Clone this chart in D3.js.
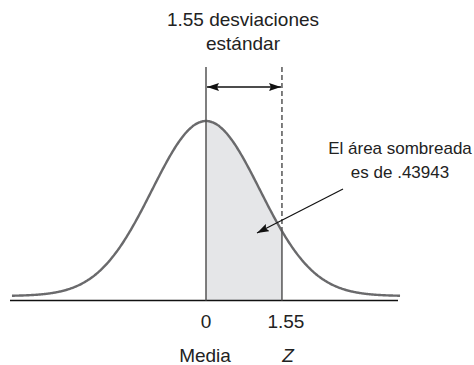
<!DOCTYPE html>
<html>
<head>
<meta charset="utf-8">
<script src="https://cdn.jsdelivr.net/npm/d3@7"></script>
<style>
html,body{margin:0;padding:0;background:#fff;}
text{font-family:"Liberation Sans",Arial,sans-serif;fill:#222;}
</style>
</head>
<body>
<svg id="c" width="474" height="365"></svg>
<script>
// ---- data ----
const zMean = 0;
const zValue = 1.55;
const shadedArea = ".43943";
const tickValues = [0, 1.55];
const tickLabels = ["0", "1.55"];
const axisLabels = ["Media", "Z"];
const titleLines = ["1.55 desviaciones", "estándar"];
const noteLines = ["El área sombreada", "es de " + shadedArea];
const curveSigma = 1.1;   // drawing spread of the schematic curve
const zRange = [-3.96, 3.96];

const svg = d3.select("#c");
const x = d3.scaleLinear().domain([-4, 4]).range([10, 402]);
const y = d3.scaleLinear().domain([0, 1]).range([296, 121]);
const baseY = 300.5;

const dens = z => Math.exp(-((z - zMean) ** 2) / (2 * curveSigma * curveSigma));
const pts = d3.range(zRange[0], zRange[1] + 1e-9, 0.02).map(z => [z, dens(z)]);
const shadePts = d3.range(zMean, zValue + 1e-9, 0.01).map(z => [z, dens(z)]);

// shaded area
svg.append("path")
  .datum(shadePts)
  .attr("fill", "#e5e6e8")
  .attr("d", d3.area().x(d => x(d[0])).y0(baseY).y1(d => y(d[1])));

// baseline
svg.append("line")
  .attr("x1", 10).attr("x2", 398).attr("y1", baseY).attr("y2", baseY)
  .attr("stroke", "#111").attr("stroke-width", 1.5);

// curve
svg.append("path")
  .datum(pts)
  .attr("fill", "none").attr("stroke", "#6a6a6c").attr("stroke-width", 2.4)
  .attr("d", d3.line().x(d => x(d[0])).y(d => y(d[1])).curve(d3.curveBasis));

const topY = 67;
// mean line
svg.append("line")
  .attr("x1", x(zMean)).attr("x2", x(zMean)).attr("y1", topY).attr("y2", baseY)
  .attr("stroke", "#555").attr("stroke-width", 1.5);
// z line: dashed above curve, solid below
const yAtZ = y(dens(zValue));
svg.append("line")
  .attr("x1", x(zValue)).attr("x2", x(zValue)).attr("y1", topY).attr("y2", yAtZ)
  .attr("stroke", "#555").attr("stroke-width", 1.5).attr("stroke-dasharray", "5,3");
svg.append("line")
  .attr("x1", x(zValue)).attr("x2", x(zValue)).attr("y1", yAtZ).attr("y2", baseY)
  .attr("stroke", "#555").attr("stroke-width", 1.5);

// arrow markers
const defs = svg.append("defs");
defs.append("marker").attr("id", "ah").attr("viewBox", "0 0 12 8")
  .attr("refX", 12).attr("refY", 4).attr("markerWidth", 12).attr("markerHeight", 8)
  .attr("markerUnits", "userSpaceOnUse").attr("orient", "auto-start-reverse")
  .append("path").attr("d", "M0,0 L12,4 L0,8 L2,4 Z").attr("fill", "#111");

// double arrow
svg.append("line")
  .attr("x1", x(zMean) + 1).attr("x2", x(zValue) - 1).attr("y1", 87).attr("y2", 87)
  .attr("stroke", "#111").attr("stroke-width", 1.3)
  .attr("marker-start", "url(#ah)").attr("marker-end", "url(#ah)");

// pointer arrow
svg.append("line")
  .attr("x1", 343).attr("y1", 189).attr("x2", 257).attr("y2", 233)
  .attr("stroke", "#111").attr("stroke-width", 1.2)
  .attr("marker-end", "url(#ah)");

// title
svg.append("g").selectAll("text").data(titleLines).join("text")
  .attr("x", 243).attr("y", (d, i) => 26 + i * 24)
  .attr("text-anchor", "middle").attr("font-size", 19).text(d => d);

// note
svg.append("g").selectAll("text").data(noteLines).join("text")
  .attr("x", 400).attr("y", (d, i) => 154 + i * 24)
  .attr("text-anchor", "middle").attr("font-size", 17).text(d => d);

// tick labels
svg.append("g").selectAll("text").data(tickValues).join("text")
  .attr("x", (d, i) => x(d) + (i === 1 ? 4 : 0)).attr("y", 328)
  .attr("text-anchor", "middle").attr("font-size", 19).text((d, i) => tickLabels[i]);

// axis labels
svg.append("g").selectAll("text").data(tickValues).join("text")
  .attr("x", (d, i) => x(d) + (i === 1 ? 6 : -1)).attr("y", 362)
  .attr("text-anchor", "middle").attr("font-size", 19)
  .attr("font-style", (d, i) => i === 1 ? "italic" : "normal")
  .text((d, i) => axisLabels[i]);
</script>
</body>
</html>
